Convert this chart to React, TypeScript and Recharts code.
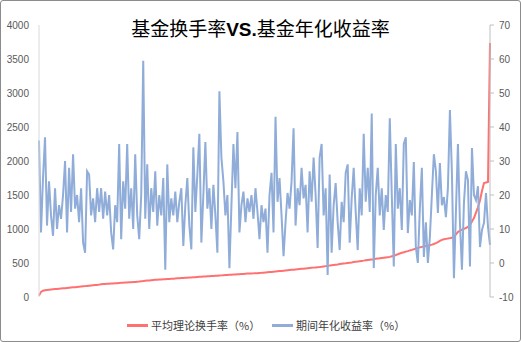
import React from 'react';
import { ComposedChart, Line, XAxis, YAxis } from 'recharts';

const chartTitleA = '基金换手率';
const chartTitleB = 'VS.';
const chartTitleC = '基金年化收益率';
const seriesNames = ['平均理论换手率（%）', '期间年化收益率（%）'];
const leftTicks = [0, 500, 1000, 1500, 2000, 2500, 3000, 3500, 4000];
const rightTicks = [-10, 0, 10, 20, 30, 40, 50, 60, 70];

// 平均理论换手率（%） - primary (left) axis
const turnover: number[] = [
  20, 75, 92, 100, 104, 107, 110, 113, 116, 118,
  121, 124, 127, 130, 133, 136, 139, 142, 145, 148,
  151, 154, 157, 160, 163, 166, 169, 172, 175, 178,
  182, 186, 190,
  192, 194, 196, 198, 200, 202, 204, 206, 208, 210, 212, 214, 216, 218, 219, 220,
  224, 227, 231, 234, 238, 241, 244, 247, 250,
  252, 254, 256, 258, 260, 262, 264, 266, 268, 270,
  272, 274, 276, 278, 280, 282, 284, 286, 288, 290,
  292, 294, 296, 298, 300, 302, 304, 306, 308, 310,
  312, 314, 316, 318, 320, 322, 324, 326, 328, 330,
  332, 334, 336, 338, 340, 342, 344, 346, 347, 348,
  350, 351, 353,
  355, 358, 361, 364, 367, 369, 372, 375, 378, 381,
  384, 387, 390, 393, 396, 399, 402, 405, 408, 411,
  414, 417, 420, 423, 426, 429, 432, 435, 438, 441,
  445, 450, 454, 458, 462, 467, 471, 475, 479, 484,
  488, 492, 496, 501, 505, 509, 514, 518, 522, 527,
  531, 535, 540, 544,
  548, 552, 556, 561, 565, 569, 574, 578, 582, 586, 590,
  598, 607, 617, 628, 640, 650, 658, 667, 675, 685,
  693, 702, 712, 722, 730, 737, 744, 750, 756, 762,
  770, 780, 792, 808, 825, 840, 848, 855, 860, 866,
  872, 890, 920, 956, 975, 990, 1003, 1015, 1029, 1060,
  1110, 1162, 1240, 1320, 1420, 1560, 1676, 1685, 1691, 3735,
];

// 期间年化收益率（%） - secondary (right) axis
const annualReturn: number[] = [
  36, 9, 25, 37, 11, 24, 14, 8, 22, 10,
  17, 13, 20, 30, 9, 28, 15, 32, 16, 20,
  12, 22, 6, 3, 27, 26, 14, 19, 12, 22,
  15, 22, 13, 21, 14, 20, 9, 4, 17, 12,
  35, 7, 24, 16, 35, 13, 22, 10, 32, 14,
  7, 20, 59.5, 13, 29, 10, 22, 15, 27, 11,
  20, 14, 25, -2, 29, 12, 19, 14, 21, 12,
  18, 22, 5, 17, 25, 11, 4, 34, 15, 26,
  38, 6, 20, 35.6, 16, 22, 10, 23, 14, 3,
  50.5, 31, 24, 14, 20, -1.5, 17, 35, 22, 38.5,
  9, 17, 21, 12, 19, 15, 20, 13, 22, 15,
  7, 17, 12, 16, 3, 20, 26.5, 9, 43, 18,
  25, 14, 2, 12, 20.6, 16, 24, 39.6, 11, 22,
  17, 28, 19, 23, 9, 27, 18, 31, 20, 4.4,
  31, 35, 14, 22, -3.5, 26, 3, 17, 23.5, 12,
  3.8, 18, 12, 26.5, 29, 6, 19, 28, 15, 3.8,
  22, 14, 38, 18, 28, 15, 44, -1.5, 20, 28,
  14, 22, 9.7, 20, 15, 42.6, 20, -1, 35, 16,
  22, 9.7, 35, 37, 8.8, 18.5, 14, 29.7, 4.7, 0,
  16, 28, 1.8, 12, 0, 7.6, 20, 32, 27, 14.7,
  29.4, 17, 19.4, 13.5, 22, 45, 26.5, -4.5, 15, 35,
  12, -2, 17.6, 27, 24.4, -1, 33.8, 20, 18.5, 22.6,
  4.7, 9.7, 11.8, 20.6, 10.6, 5.3,
];

const RED = '#FF7171';
const BLUE = '#8FADD8';

const data = turnover.map((t, i) => ({ i, turnover: t, ret: annualReturn[i] }));

const tickFont = { fontSize: 10, fill: '#595959', fontFamily: '"Liberation Sans", Arial, sans-serif' };

export default function App() {
  return (
    <div style={{ position: 'absolute', left: 0, top: 0, width: 521, height: 342, background: '#fff' }}>
      <ComposedChart width={521} height={342} data={data} margin={{ top: 25, right: 0, bottom: 45, left: 0 }}>
        <XAxis dataKey="i" type="number" domain={[0, data.length - 1]} hide />
        <YAxis
          yAxisId="left"
          orientation="left"
          width={39}
          domain={[0, 4000]}
          ticks={leftTicks}
          interval={0}
          tickLine={false}
          axisLine={{ stroke: '#D9D9D9', strokeWidth: 1 }}
          tick={tickFont}
          tickMargin={4}
        />
        <YAxis
          yAxisId="right"
          orientation="right"
          width={31}
          domain={[-10, 70]}
          ticks={rightTicks}
          interval={0}
          tickSize={4}
          tickMargin={5}
          tickLine={{ stroke: '#BFBFBF' }}
          axisLine={{ stroke: '#BFBFBF', strokeWidth: 1 }}
          tick={tickFont}
        />
        <Line yAxisId="left" dataKey="turnover" type="linear" stroke={RED} strokeWidth={2} dot={false} isAnimationActive={false} />
        <Line yAxisId="right" dataKey="ret" type="linear" stroke={BLUE} strokeWidth={2} dot={false} isAnimationActive={false} />
      </ComposedChart>
      <div style={{ position: 'absolute', left: 0, top: 16, width: 521, textAlign: 'center', fontSize: 19, lineHeight: '24px', color: '#000', fontFamily: '"Noto Sans CJK SC", sans-serif' }}>
        {chartTitleA}<span style={{ fontWeight: 'bold', fontFamily: '"Liberation Sans", Arial, sans-serif' }}>{chartTitleB}</span>{chartTitleC}
      </div>
      <div style={{ position: 'absolute', left: 127, top: 324, width: 21, height: 2.5, background: RED }} />
      <div style={{ position: 'absolute', left: 151, top: 317, fontSize: 11, lineHeight: '16px', color: '#404040', fontFamily: '"Noto Sans CJK SC", sans-serif', whiteSpace: 'nowrap' }}>{seriesNames[0]}</div>
      <div style={{ position: 'absolute', left: 272, top: 324, width: 21, height: 2.5, background: BLUE }} />
      <div style={{ position: 'absolute', left: 296, top: 317, fontSize: 11, lineHeight: '16px', color: '#404040', fontFamily: '"Noto Sans CJK SC", sans-serif', whiteSpace: 'nowrap' }}>{seriesNames[1]}</div>
      <div style={{ position: 'absolute', left: 0, top: 0, width: 521, height: 342, boxSizing: 'border-box', border: '1px solid #8C8C8C', borderRadius: 3, pointerEvents: 'none' }} />
    </div>
  );
}
